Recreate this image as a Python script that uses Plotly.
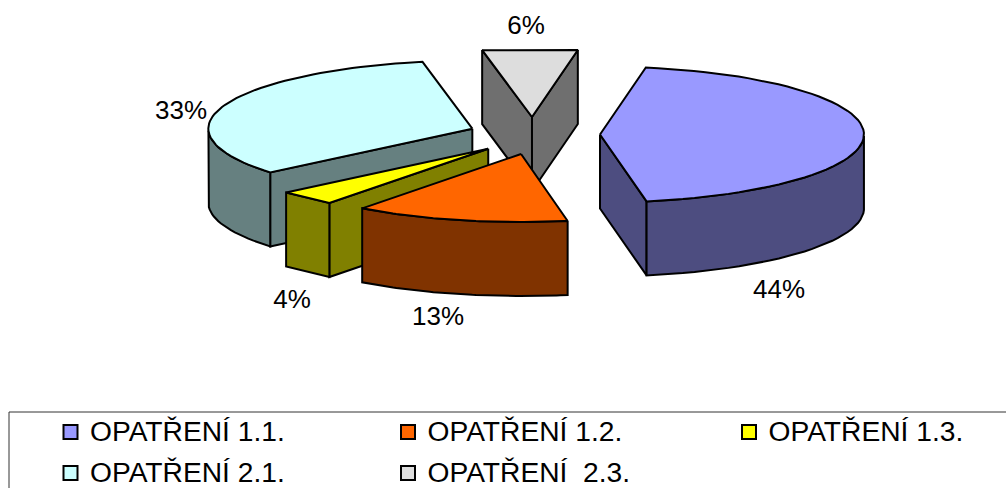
import numpy as np
import plotly.graph_objects as go

# Data
categories = ["OPATŘENÍ 1.1.", "OPATŘENÍ 1.2.", "OPATŘENÍ 1.3.", "OPATŘENÍ 2.1.", "OPATŘENÍ  2.3."]
values = [44.4, 13.1, 3.6, 33.1, 5.8]
top_colors = ["#9999FF", "#FF6600", "#FFFF00", "#CCFFFF", "#DDDDDD"]
side_colors = ["#4D4D80", "#803300", "#808000", "#668080", "#6F6F6F"]
label_x = [779, 438, 292, 181, 526]
label_y = [291, 318, 301, 112, 27]
draw_order = [4, 0, 3, 2, 1]

# Projection of the tilted pie onto page pixels
CX, CY, RX, RY = 533.5, 134.5, 264, 68
EXPL_X, EXPL_Y = 66.5, 17.5
DEPTH = 74
START_DEG = 80
# small per-slice offsets of the exploded apex
NUDGE_X = [0, 3, 0.5, 1.5, -1]
NUDGE_Y = [0, 2.5, 1.5, 0, 0]
LINE = dict(color="#000000", width=2)

fig = go.Figure()


def poly(xs, ys, color):
    fig.add_trace(go.Scatter(
        x=list(xs) + [xs[0]], y=list(ys) + [ys[0]], mode="lines", fill="toself",
        fillcolor=color, line=LINE, hoverinfo="skip", showlegend=False))


# slice angles derive from the values
bounds = [START_DEG]
for v in values:
    bounds.append(bounds[-1] - v * 3.6)

for i in draw_order:
    a0, a1 = bounds[i], bounds[i + 1]
    mid = np.radians((a0 + a1) / 2)
    ax = CX + EXPL_X * np.cos(mid) + NUDGE_X[i]
    ay = CY - EXPL_Y * np.sin(mid) + NUDGE_Y[i]
    n_pts = 2 if abs(a0 - a1) < 25 else 60
    angs = np.radians(np.linspace(a0, a1, n_pts))
    ex = ax + RX * np.cos(angs)
    ey = ay - RY * np.sin(angs)
    # radial walls facing the viewer
    if np.cos(np.radians(a0)) < 0:
        poly([ax, ex[0], ex[0], ax], [ay, ey[0], ey[0] + DEPTH, ay + DEPTH], side_colors[i])
    if np.cos(np.radians(a1)) > 0:
        poly([ax, ex[-1], ex[-1], ax], [ay, ey[-1], ey[-1] + DEPTH, ay + DEPTH], side_colors[i])
    # outer rim (front half only)
    front = np.sin(angs) <= 0
    if front.any():
        fx, fy = ex[front], ey[front]
        poly(list(fx) + list(fx[::-1]), list(fy) + list((fy + DEPTH)[::-1]), side_colors[i])
    # top face
    poly([ax] + list(ex), [ay] + list(ey), top_colors[i])

# percentage labels
fig.add_trace(go.Scatter(
    x=label_x, y=label_y, mode="text", text=[f"{round(v)}%" for v in values],
    textposition="middle center",
    textfont=dict(family="Liberation Sans", size=26, color="#000000"),
    hoverinfo="skip", showlegend=False))

# legend frame and entries
fig.add_shape(type="rect", x0=9, y0=412, x1=1030, y1=510,
              line=dict(color="#333333", width=1), fillcolor="rgba(0,0,0,0)")
col_x = [70.5, 408, 749]
row_y = [432, 473]
for i, name in enumerate(categories):
    x, y = col_x[i % 3], row_y[i // 3]
    fig.add_trace(go.Scatter(
        x=[x], y=[y], mode="markers",
        marker=dict(symbol="square", size=14, color=top_colors[i],
                    line=dict(color="#000000", width=2)),
        hoverinfo="skip", showlegend=False))
    fig.add_trace(go.Scatter(
        x=[x + 19.5], y=[y + 1.5], mode="text", text=[name],
        textposition="middle right",
        textfont=dict(family="Liberation Sans", size=28.2, color="#000000"),
        hoverinfo="skip", showlegend=False))

fig.update_layout(
    width=1006, height=488, margin=dict(l=0, r=0, t=0, b=0),
    paper_bgcolor="#FFFFFF", plot_bgcolor="#FFFFFF", showlegend=False,
    xaxis=dict(range=[0, 1006], visible=False, fixedrange=True),
    yaxis=dict(range=[488, 0], visible=False, fixedrange=True),
)
fig.write_html("out.html", config={"displayModeBar": False},
               post_script="document.body.style.margin='0';document.body.style.overflow='hidden';")
